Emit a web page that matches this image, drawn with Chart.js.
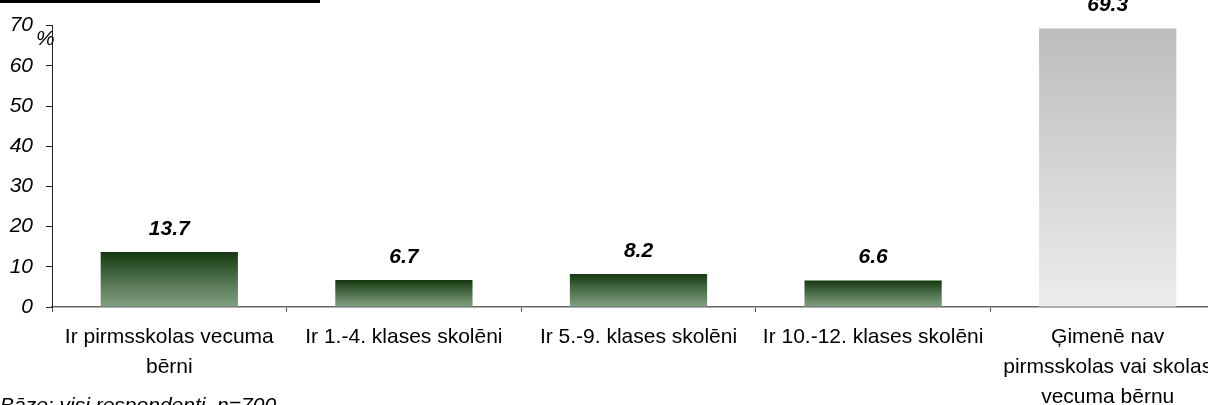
<!DOCTYPE html>
<html>
<head>
<meta charset="utf-8">
<script src="https://cdn.jsdelivr.net/npm/chart.js@4"></script>
<style>
  html, body { margin: 0; padding: 0; background: #fff; overflow: hidden; }
  #wrap { width: 1208px; height: 405px; overflow: hidden; }
</style>
</head>
<body>
<div id="wrap"><canvas id="grafica" width="1225" height="405"></canvas></div>
<script>
// datos del grafico
const categorias = [
  ["Ir pirmsskolas vecuma", "bērni"],
  "Ir 1.-4. klases skolēni",
  "Ir 5.-9. klases skolēni",
  "Ir 10.-12. klases skolēni",
  ["Ģimenē nav", "pirmsskolas vai skolas", "vecuma bērnu"]
];
const valores = [13.7, 6.7, 8.2, 6.6, 69.3];
const ticksY = [0, 10, 20, 30, 40, 50, 60, 70];
const nota = "Bāze: visi respondenti, n=700";

document.addEventListener("DOMContentLoaded", function () {
  const ctx = document.getElementById('grafica').getContext('2d');

  // degradado por barra: oscuro arriba, claro abajo (la ultima gris)
  function colorBarra(c) {
    const chart = c.chart;
    const y = chart.scales.y;
    if (!chart.chartArea || !y) return '#4d6e4b';
    const top = y.getPixelForValue(valores[c.dataIndex]);
    const bottom = y.getPixelForValue(0);
    const g = chart.ctx.createLinearGradient(0, top, 0, bottom);
    if (c.dataIndex === valores.length - 1) {
      g.addColorStop(0, '#bdbdbd');
      g.addColorStop(1, '#ececec');
    } else {
      g.addColorStop(0, '#14380f');
      g.addColorStop(0.5, '#4f704c');
      g.addColorStop(1, '#83a183');
    }
    return g;
  }

  // etiquetas de valor, "%", linea superior y nota
  const extras = {
    id: 'extras',
    afterDatasetsDraw(chart) {
      const c = chart.ctx;
      const meta = chart.getDatasetMeta(0);
      c.save();
      c.fillStyle = '#000';
      c.textAlign = 'center';
      c.textBaseline = 'middle';
      c.font = 'italic bold 21px "Liberation Sans", Arial, sans-serif';
      meta.data.forEach(function (bar, i) {
        c.fillText(valores[i].toFixed(1), bar.x, bar.y - 23);
      });
      c.font = 'italic 21px "Liberation Sans", Arial, sans-serif';
      c.textAlign = 'left';
      c.fillText('%', 36, 39);
      c.textBaseline = 'top';
      c.fillText(nota, 0, 396);
      c.fillRect(0, 0, 320, 3);
      c.restore();
    }
  };

  new Chart(ctx, {
    type: 'bar',
    data: {
      labels: categorias,
      datasets: [{
        data: valores,
        backgroundColor: colorBarra,
        borderWidth: 0,
        categoryPercentage: 1,
        barPercentage: 0.585
      }]
    },
    options: {
      responsive: false,
      animation: false,
      layout: { padding: { top: 24, left: 0, right: 0, bottom: 0 } },
      plugins: {
        legend: { display: false },
        tooltip: { enabled: false }
      },
      scales: {
        x: {
          afterFit(s) { s.height = 98; },
          grid: { drawOnChartArea: false, tickLength: 5, color: '#555', offset: true },
          border: { color: '#666', width: 1.5 },
          ticks: {
            color: '#000',
            padding: 10,
            maxRotation: 0,
            autoSkip: false,
            font: { family: '"Liberation Sans", Arial, sans-serif', size: 21, lineHeight: 1.43 }
          }
        },
        y: {
          min: 0,
          max: 70,
          afterFit(s) { s.width = 52; },
          afterBuildTicks(s) { s.ticks = ticksY.map(v => ({ value: v })); },
          grid: { drawOnChartArea: false, tickLength: 6, color: '#222' },
          border: { color: '#222', width: 1 },
          ticks: {
            color: '#000',
            padding: 13,
            font: { family: '"Liberation Sans", Arial, sans-serif', size: 21, style: 'italic' }
          }
        }
      }
    },
    plugins: [extras]
  });
});
</script>
</body>
</html>
